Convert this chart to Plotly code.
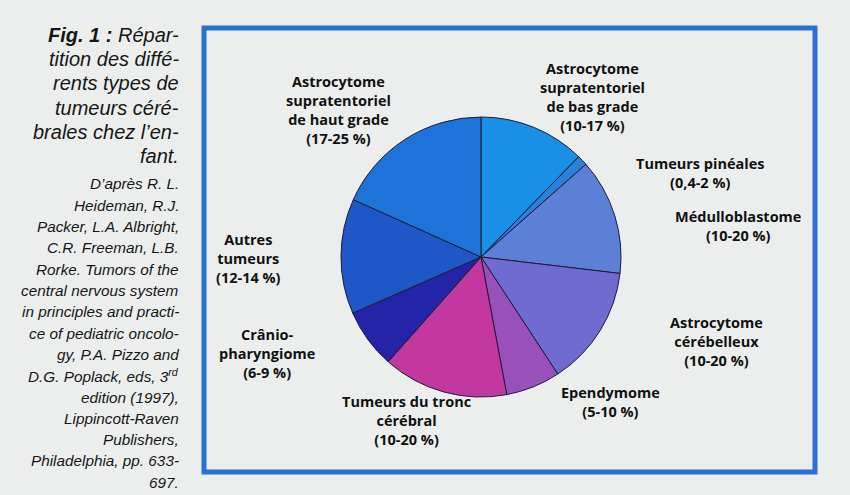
import plotly.graph_objects as go

W, H = 850, 495

# ---- data ----
categories = [
    "Astrocytome supratentoriel de bas grade",
    "Tumeurs pinéales",
    "Médulloblastome",
    "Astrocytome cérébelleux",
    "Ependymome",
    "Tumeurs du tronc cérébral",
    "Crânio-pharyngiome",
    "Autres tumeurs",
    "Astrocytome supratentoriel de haut grade",
]
values = [12.3, 1.2, 13.4, 13.9, 6.3, 14.5, 6.9, 13.3, 18.3]
label_lines = [
    ["Astrocytome", "supratentoriel", "de bas grade", "(10-17 %)"],
    ["Tumeurs pinéales", "(0,4-2 %)"],
    ["Médulloblastome", "(10-20 %)"],
    ["Astrocytome", "cérébelleux", "(10-20 %)"],
    ["Ependymome", "(5-10 %)"],
    ["Tumeurs du tronc", "cérébral", "(10-20 %)"],
    ["Crânio-", "pharyngiome", "(6-9 %)"],
    ["Autres", "tumeurs", "(12-14 %)"],
    ["Astrocytome", "supratentoriel", "de haut grade", "(17-25 %)"],
]
colors = ["#1a8fe6", "#2c80dc", "#5b80d6", "#6f6bd0", "#9a50ba",
          "#c2389f", "#2424a8", "#1f56c8", "#1e73d9"]

caption_big = ["<b>Fig. 1 :</b> Répar-", "tition des diffé-", "rents types de",
               "tumeurs céré-", "brales chez l’en-", "fant."]
caption_small = ["D’après R. L.", "Heideman, R.J.", "Packer, L.A. Albright,",
                 "C.R. Freeman, L.B.", "Rorke. Tumors of the",
                 "central nervous system", "in principles and practi-",
                 "ce of pediatric oncolo-", "gy, P.A. Pizzo and",
                 "D.G. Poplack, eds, 3<sup>rd</sup>", "edition (1997),",
                 "Lippincott-Raven", "Publishers,", "Philadelphia, pp. 633-",
                 "697."]

# ---- layout helpers (pixel -> paper) ----
def px(x):
    return x / W

def py(y):
    return 1 - y / H

cx, cy, r = 481, 257, 140

fig = go.Figure()
fig.add_trace(go.Pie(
    labels=categories, values=values, sort=False, direction="clockwise",
    rotation=0, textinfo="none", hoverinfo="label+percent",
    marker=dict(colors=colors, line=dict(color="#1b1b3a", width=1)),
    domain=dict(x=[px(cx - r), px(cx + r)], y=[py(cy + r), py(cy - r)]),
    showlegend=False,
))

# label block centres (x, y) in pixels
label_pos = [(592, 97), (700, 173), (738, 226), (716, 341), (610, 402),
             (406, 420), (267, 353), (248, 258), (338, 110)]
annotations = []
for lines, (lx, ly) in zip(label_lines, label_pos):
    annotations.append(dict(
        x=px(lx), y=py(ly), xref="paper", yref="paper",
        text="<b>" + "<br>".join(lines) + "</b>", showarrow=False,
        xanchor="center", yanchor="middle", align="center",
        font=dict(family="Open Sans", size=14.5, color="#111111"),
    ))

for i, line in enumerate(caption_big):
    annotations.append(dict(
        x=px(181), y=py(35 + i * 24.2), xref="paper", yref="paper",
        text="<i>" + line + "</i>", showarrow=False, xanchor="right",
        yanchor="middle", align="right",
        font=dict(family="Liberation Sans", size=20, color="#161616"),
    ))
for i, line in enumerate(caption_small):
    annotations.append(dict(
        x=px(181), y=py(184 + i * 21.3), xref="paper", yref="paper",
        text="<i>" + line + "</i>", showarrow=False, xanchor="right",
        yanchor="middle", align="right",
        font=dict(family="Liberation Sans", size=15.3, color="#161616"),
    ))

fig.update_layout(
    width=W, height=H, margin=dict(l=0, r=0, t=0, b=0),
    paper_bgcolor="#eceeed", plot_bgcolor="#eceeed",
    annotations=annotations,
    shapes=[dict(type="rect", xref="paper", yref="paper",
                 x0=px(204), x1=px(815), y0=py(28), y1=py(472),
                 line=dict(color="#2a6fd6", width=5))],
)

fig.write_html(
    "out.html",
    config={"displayModeBar": False},
    post_script="document.body.style.margin='0';document.body.style.background='#eceeed';",
)
